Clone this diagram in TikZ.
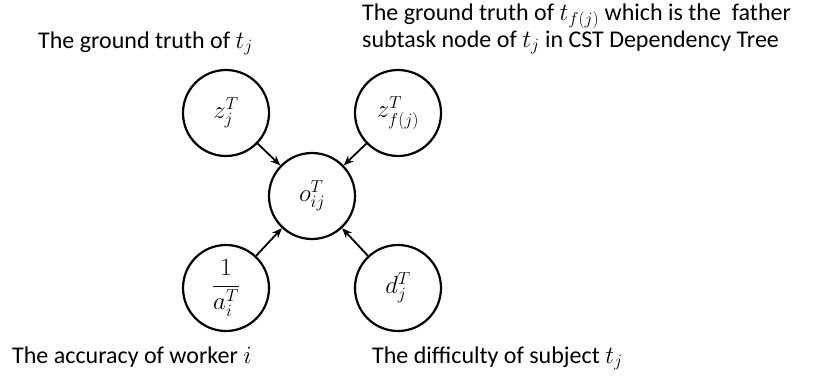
\documentclass[tikz,border=0pt]{standalone}
\usepackage{amsmath}
\usepackage{fontspec}
\setmainfont{Carlito}
\usetikzlibrary{arrows.meta}
\newcommand{\lm}[1]{{\fontsize{26}{26}\selectfont$#1$}}
\begin{document}
\begin{tikzpicture}[x=1pt,y=-1pt,
  var/.style={circle,draw,line width=2.2pt,minimum size=86pt,inner sep=0pt,font=\fontsize{26}{30}\selectfont},
  lab/.style={anchor=base west,inner sep=0pt,font=\fontsize{24}{28}\selectfont},
  edge/.style={line width=1.8pt,-{Stealth[length=10pt,width=8pt]}}]
\useasboundingbox (0,0) rectangle (814,375);
\node[var] (z) at (226,113) {$z_j^T$};
\node[var] (zf) at (398,113) {$z_{f(j)}^T$};
\node[var] (o) at (312,196) {$o_{ij}^T$};
\node[var] (a) at (226,288) {$\dfrac{1}{a_i^T}$};
\node[var] (d) at (398,288) {$d_j^T$};
\draw[edge] (z) -- (o);
\draw[edge] (zf) -- (o);
\draw[edge] (a) -- (o);
\draw[edge] (d) -- (o);
\node[lab] (l1) at (38,48) {The ground truth of \lm{t_j}};
\node[lab] (l2) at (362,20) {The ground truth of \lm{t_{\raisebox{1.5pt}{$\scriptstyle f(j)$}}} which is the\ \ father};
\node[lab] (l3) at (362,47) {subtask node of \lm{t_j} in CST Dependency Tree};
\node[lab] (l4) at (12,363) {The accuracy of worker \lm{i}};
\node[lab] (l5) at (372,363) {The difficulty of subject \lm{t_j}};
\end{tikzpicture}
\end{document}
